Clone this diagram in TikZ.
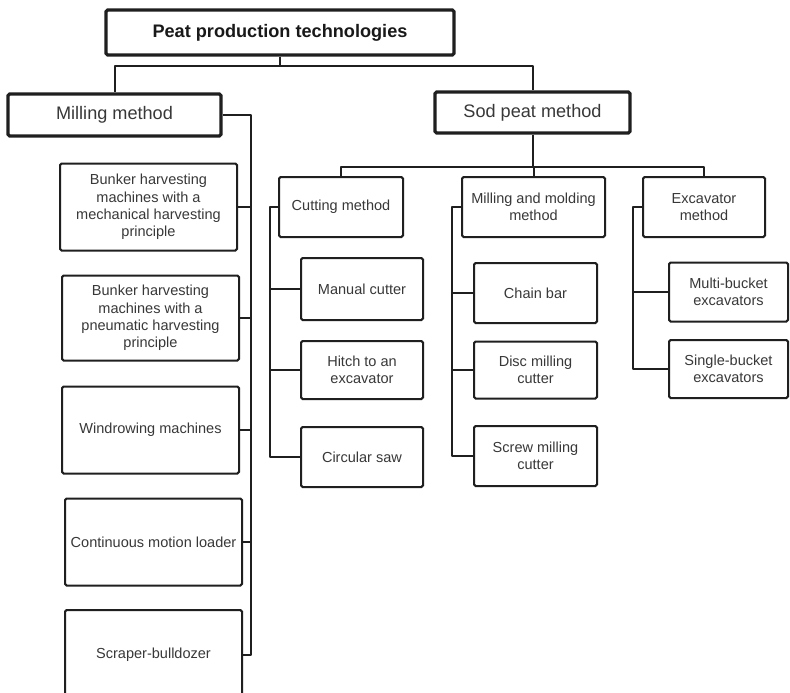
\documentclass[tikz,border=0pt]{standalone}
\usepackage{fontspec}
\setmainfont{Liberation Sans}
\begin{document}
\begin{tikzpicture}[x=0.75pt,y=-0.75pt,
  linec/.style={draw=black!88, line width=1.5pt},
  conn/.style={linec, line join=round},
  boxbase/.style={linec, rectangle, rounded corners=1.2pt, inner sep=0pt, align=center, text=black!78, fill=white},
  smallbox/.style={boxbase, font=\fontsize{10.9}{13.1}\selectfont},
  bigbox/.style={boxbase, line width=2.3pt, font=\fontsize{13.6}{16}\selectfont},
  titlebox/.style={bigbox, text=black!90, font=\fontsize{13.6}{16}\selectfont\bfseries}
]
\clip (0,0) rectangle (790,693);
\fill[white] (0,0) rectangle (790,693);
\newcommand\bx[7]{\node[#7, minimum width=#4*0.75pt, minimum height=#5*0.75pt] (#1) at (#2,#3) {#6};}
% level 0/1
\bx{top}{280}{32.5}{348}{45}{Peat production technologies}{titlebox}
\bx{mill}{114.5}{115}{213}{42}{Milling method}{bigbox}
\bx{sod}{532.5}{112.5}{195}{41}{Sod peat method}{bigbox}
% milling children
\bx{b1}{148.5}{207}{177}{87}{Bunker harvesting\\machines with a\\mechanical harvesting\\principle}{smallbox}
\bx{b2}{150.5}{318}{177}{85}{Bunker harvesting\\machines with a\\pneumatic harvesting\\principle}{smallbox}
\bx{wind}{150.5}{430}{177}{87}{Windrowing machines}{smallbox}
\bx{cont}{153.5}{542}{177}{87}{Continuous motion loader}{smallbox}
\bx{scr}{153.5}{655}{177}{90}{Scraper-bulldozer}{smallbox}
% sod children
\bx{cut}{341}{207}{124}{60}{Cutting method}{smallbox}
\bx{mm}{533.5}{207}{143}{60}{Milling and molding\\method}{smallbox}
\bx{exc}{704}{207}{122}{60}{Excavator\\method}{smallbox}
\bx{man}{362}{289}{122}{62}{Manual cutter}{smallbox}
\bx{hitch}{362}{370}{122}{58}{Hitch to an\\excavator}{smallbox}
\bx{circ}{362}{457}{122}{60}{Circular saw}{smallbox}
\bx{chain}{535.5}{293}{123}{60}{Chain bar}{smallbox}
\bx{disc}{535.5}{370}{123}{57}{Disc milling\\cutter}{smallbox}
\bx{screw}{535.5}{456}{123}{60}{Screw milling\\cutter}{smallbox}
\bx{multi}{728.5}{292}{119}{59}{Multi-bucket\\excavators}{smallbox}
\bx{single}{728.5}{369}{119}{58}{Single-bucket\\excavators}{smallbox}
% connectors
\coordinate (j1) at (280,66);
\draw[conn] (top.south) -- (j1);
\draw[conn] (mill.north) |- (j1) -| (sod.north);
\coordinate (mv) at (251,115);
\draw[conn] (mill.east) -- (mv) |- (scr.east);
\foreach \n in {b1,b2,wind,cont} \draw[conn] (\n.east) -- (\n.east -| mv);
\coordinate (j2) at (532.5,167);
\draw[conn] (sod.south) -- (j2);
\draw[conn] (cut.north) |- (j2) -| (exc.north);
\draw[conn] (mm.north) -- (mm.north |- j2);
\coordinate (cv) at (270,207);
\draw[conn] (cut.west) -- (cv) |- (circ.west);
\foreach \n in {man,hitch} \draw[conn] (\n.west) -- (\n.west -| cv);
\coordinate (mmv) at (452,207);
\draw[conn] (mm.west) -- (mmv) |- (screw.west);
\foreach \n in {chain,disc} \draw[conn] (\n.west) -- (\n.west -| mmv);
\coordinate (ev) at (633,207);
\draw[conn] (exc.west) -- (ev) |- (single.west);
\draw[conn] (multi.west) -- (multi.west -| ev);
\end{tikzpicture}
\end{document}
